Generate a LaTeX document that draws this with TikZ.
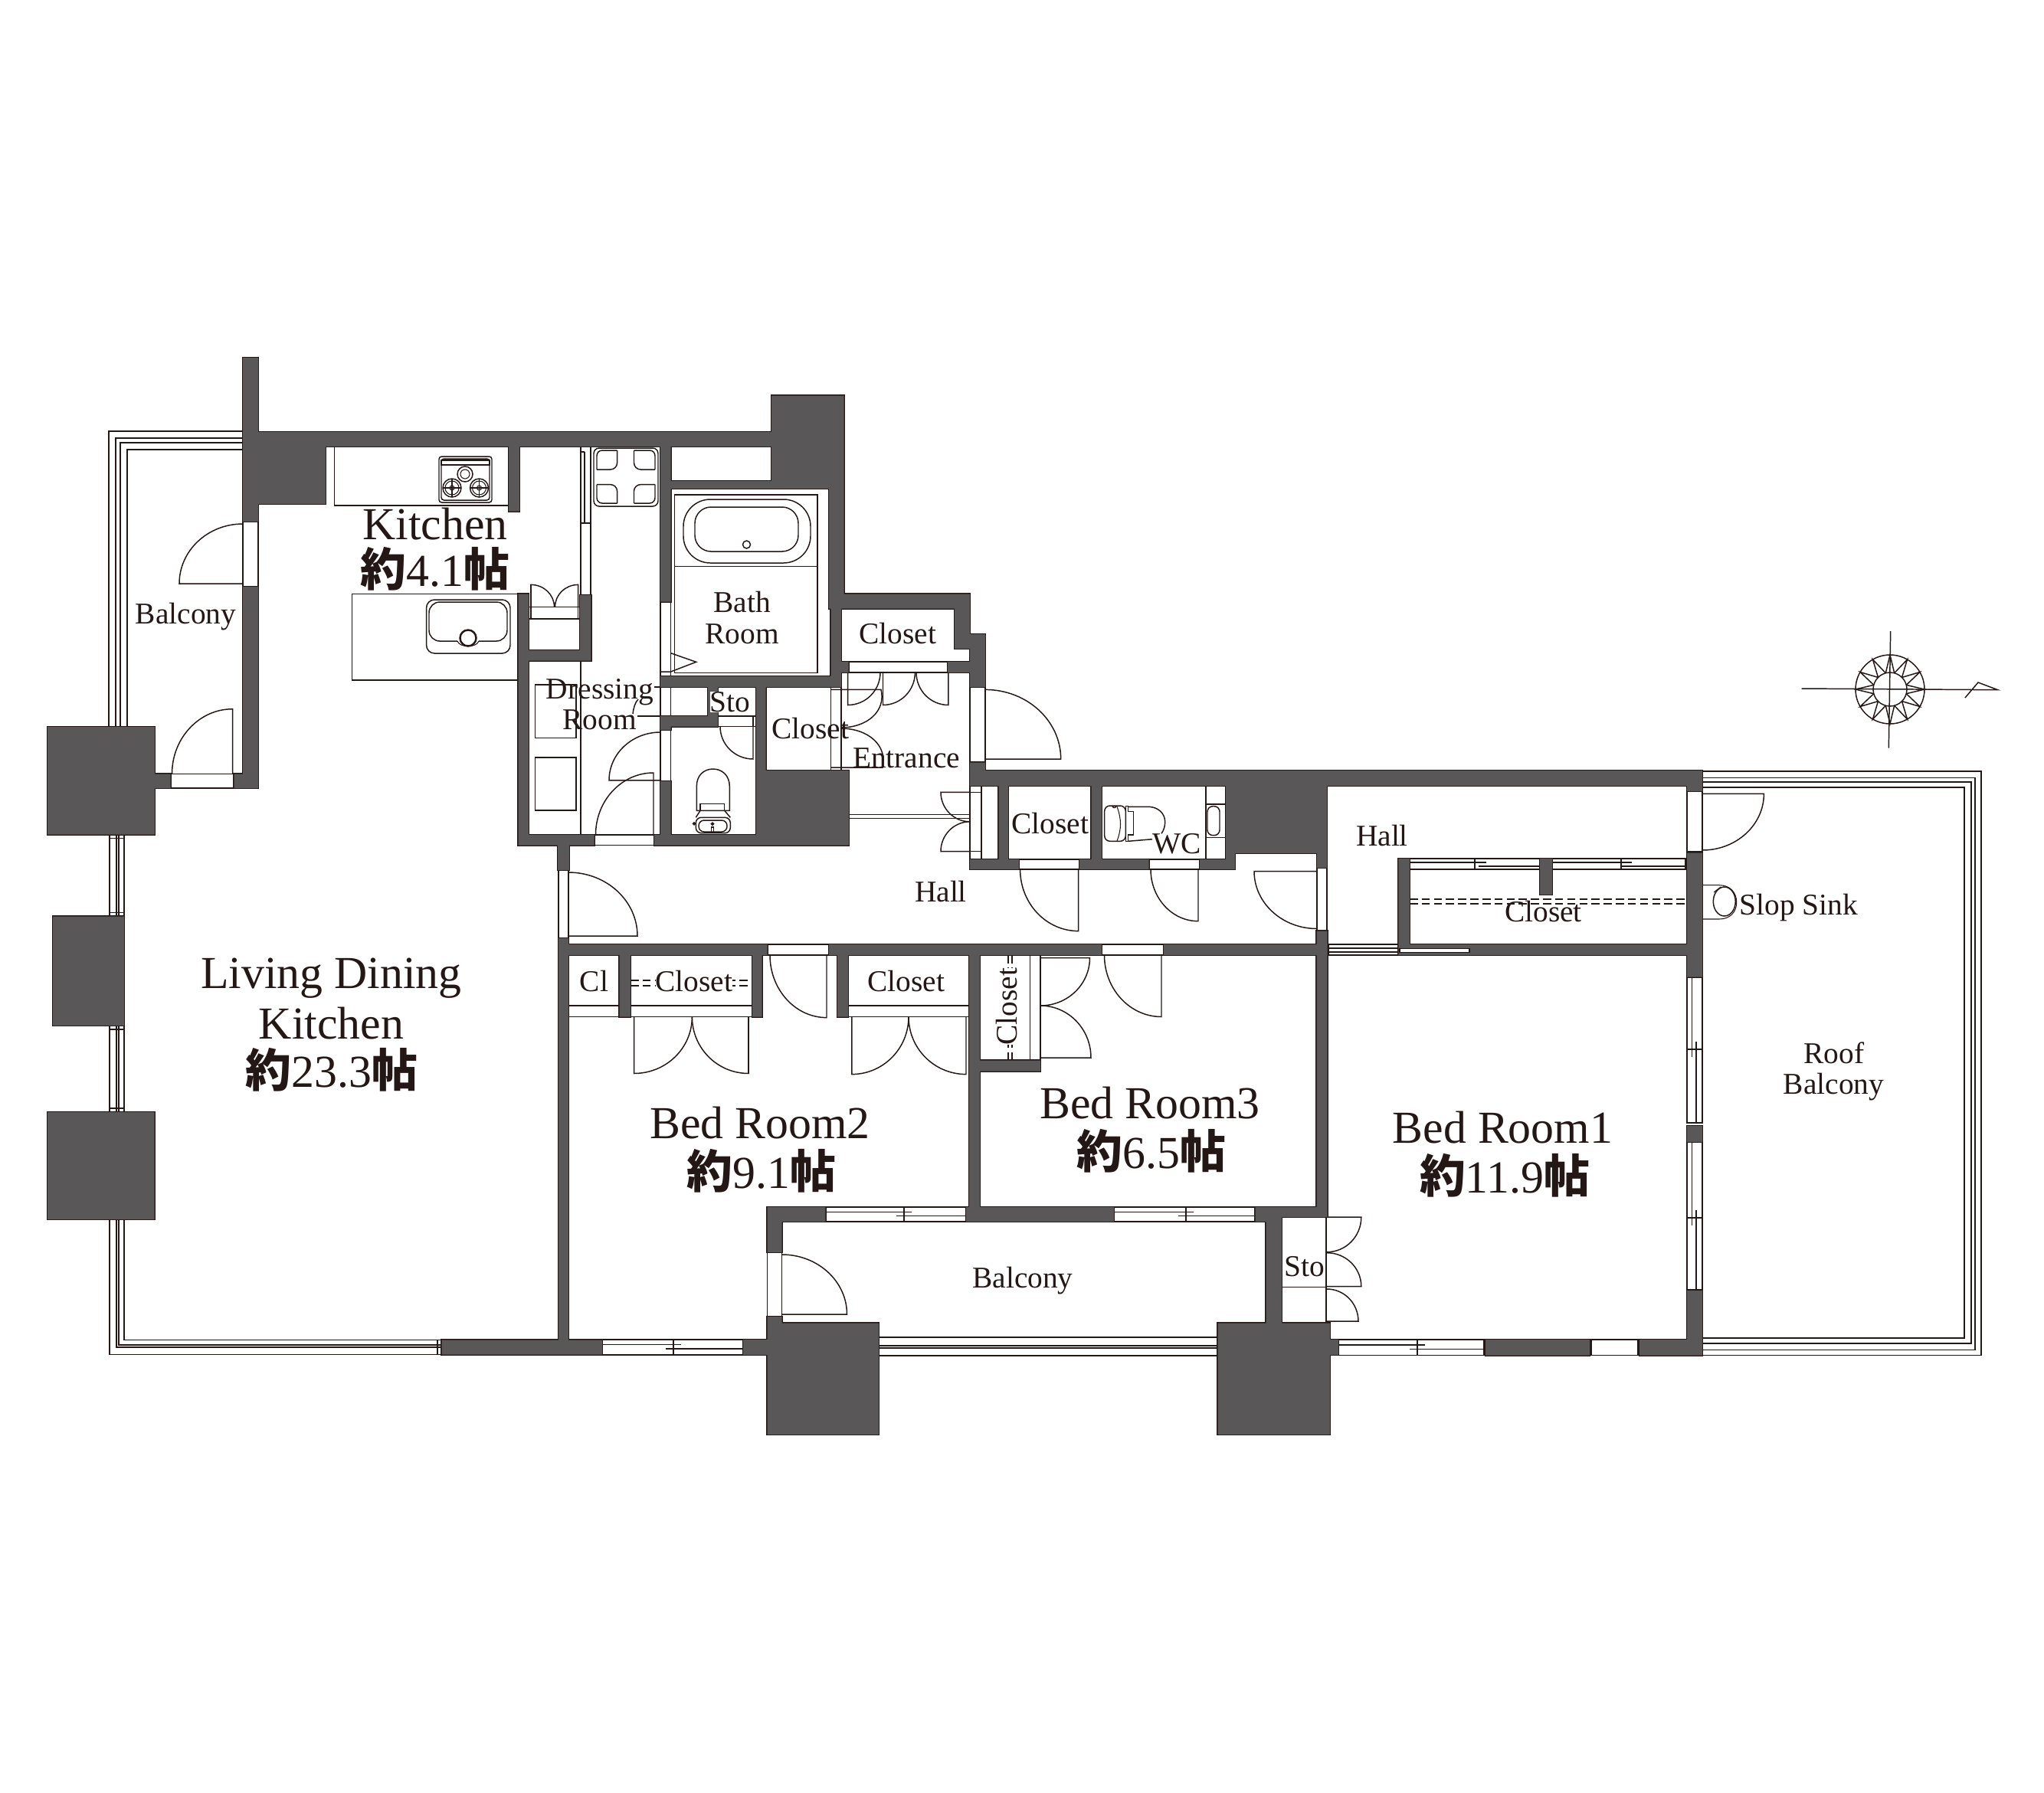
\documentclass[tikz,border=0pt]{standalone}
\usepackage{fontspec}
\setmainfont{Liberation Serif}
\newfontfamily\cjk{Noto Sans CJK JP}
\definecolor{ink}{HTML}{231815}
\definecolor{wallfill}{HTML}{595757}
\tikzset{
  thl/.style={draw=ink,line width=0.42pt},
  hair/.style={draw=ink,line width=0.3pt},
  lab/.style={anchor=base,inner sep=0pt,text=ink,font=\fontsize{11.2}{13}\selectfont},
  big/.style={anchor=base,inner sep=0pt,text=ink,font=\fontsize{17}{20}\selectfont},
}
% door: hinge, leaf tip, arc end
\newcommand\dr[6]{%
  \pgfmathsetmacro\myax{#3+0.5523*(#5-#1)}\pgfmathsetmacro\myay{#4+0.5523*(#6-#2)}%
  \pgfmathsetmacro\mybx{#5+0.5523*(#3-#1)}\pgfmathsetmacro\myby{#6+0.5523*(#4-#2)}%
  \draw[thl] (#1,#2)--(#3,#4) .. controls (\myax,\myay) and (\mybx,\myby) .. (#5,#6);}
% sill
\newcommand\sill[4]{\draw[thl] (#1,#2) rectangle (#3,#4);}
% horizontal window: x1 y1 x2 y2 xm
\newcommand\hwin[5]{%
  \pgfmathsetmacro\mya{#2+0.34*(#4-#2)}\pgfmathsetmacro\myb{#2+0.6*(#4-#2)}%
  \draw[thl] (#1,#2) rectangle (#3,#4);
  \draw[hair] (#1,\mya)--(#5+10,\mya) (#5-10,\myb)--(#3,\myb) (#5,#2)--(#5,#4);}
% vertical window: x1 y1 x2 y2 ym
\newcommand\vwin[5]{%
  \pgfmathsetmacro\mya{#1+0.34*(#3-#1)}\pgfmathsetmacro\myb{#1+0.6*(#3-#1)}%
  \draw[thl] (#1,#2) rectangle (#3,#4);
  \draw[hair] (\mya,#2)--(\mya,#5+10) (\myb,#5-10)--(\myb,#4) (#1,#5)--(#3,#5);}
\def\walls{
 (317,467) rectangle (337,681)
 (317,564) rectangle (425,658)
 (337,564) rectangle (1007,583)
 (317,766) rectangle (337,1029)
 (305.6,1010.5) rectangle (337,1029)
 (202,1010.5) rectangle (222.5,1029)
 (62,949) rectangle (202,1089.5)
 (69,1196.5) rectangle (162,1339)
 (62,1452) rectangle (201.5,1592)
 (664,583) rectangle (678,667.7)
 (862,583) rectangle (875.5,785.7)
 (875.5,628) rectangle (1101.5,638)
 (1007,516.5) rectangle (1101.5,638)
 (1082,638) rectangle (1101.5,794.6)
 (1082,775.5) rectangle (1266,794.6)
 (1084.7,794.6) rectangle (1098,883)
 (1246,775.5) rectangle (1266,847)
 (1266,828) rectangle (1286,897)
 (1098,864) rectangle (1107.7,878)
 (1237,864) rectangle (1266,878)
 (862,883) rectangle (1098,897)
 (1084.7,878) rectangle (1098,897)
 (676.5,775.5) rectangle (690,1103.6)
 (676.5,849) rectangle (771.4,862.5)
 (757,777) rectangle (771.4,862.5)
 (676.5,1090) rectangle (775.5,1103.6)
 (728,1103.6) rectangle (743,1136)
 (924,897) rectangle (937,948.6)
 (862,935) rectangle (937,948.6)
 (862,935) rectangle (875.5,953)
 (987,897) rectangle (999.5,1103.6)
 (862,1020) rectangle (875.5,1103.6)
 (854,1090) rectangle (1108,1103.6)
 (987,1006) rectangle (1108,1103.6)
 (1266,995.5) rectangle (1286,1025.5)
 (1266,1006) rectangle (2222,1026)
 (1303.6,1026) rectangle (1316,1122)
 (1266,1122) rectangle (1330,1135)
 (1409,1122) rectangle (1499.5,1135)
 (1566,1122) rectangle (1612,1135)
 (1424.5,1026) rectangle (1438,1122)
 (1600,1026) rectangle (1732,1114)
 (1600,1026) rectangle (1612,1135)
 (1719,1026) rectangle (1732,1133)
 (729,1225) rectangle (742,1749.5)
 (729,1233) rectangle (1001.6,1247)
 (1082,1233) rectangle (1438,1247)
 (1519,1233) rectangle (1718.6,1247)
 (1718.6,1215.6) rectangle (1732.6,1589)
 (576.5,1749.5) rectangle (786,1768.6)
 (808.7,1247) rectangle (822.8,1327.5)
 (982,1247) rectangle (994.6,1327.5)
 (1093,1247) rectangle (1107,1327.5)
 (1265,1247) rectangle (1279,1578.6)
 (1279,1384.7) rectangle (1358,1398.5)
 (1001.6,1576) rectangle (1077.4,1595)
 (1261,1576) rectangle (1454,1595)
 (1638.6,1576) rectangle (1732.6,1589)
 (1638.6,1576) rectangle (1652.6,1595)
 (1652.6,1589) rectangle (1673,1727.6)
 (1638.6,1589) rectangle (1673,1595)
 (1001.6,1576) rectangle (1020.6,1635)
 (1001.6,1719) rectangle (1020.6,1730)
 (1001.6,1727.6) rectangle (1147,1873)
 (970,1749) rectangle (1001.6,1769)
 (1589.5,1727.6) rectangle (1736,1873)
 (1736,1749) rectangle (1747,1769)
 (1939,1749) rectangle (2075,1769.5)
 (2140,1749) rectangle (2222,1769.5)
 (2202,1685) rectangle (2222,1769.5)
 (2202,1470) rectangle (2222,1491)
 (2202,1113.6) rectangle (2222,1275.6)
 (2202,1007) rectangle (2222,1033)
 (1825.4,1121) rectangle (1840,1247)
 (1825.4,1233) rectangle (2202,1247)
 (2010,1121) rectangle (2026,1168)
}
\begin{document}
\begin{tikzpicture}[x=0.01cm,y=-0.01cm]
\useasboundingbox (0,0) rectangle (2668,2341);
\fill[white] (0,0) rectangle (2668,2341);

% west balcony rails
\draw[thl] (317,563)--(142,563)--(142,949) (317,572)--(151,572)--(151,949)
           (317,578)--(157,578)--(157,949) (317,587)--(166,587)--(166,949);
\foreach \ya/\yb in {1089.5/1196.5,1339/1452}{
  \draw[thl] (143,\ya)--(143,\yb) (162,\ya)--(162,\yb);
  \draw[hair] (152,\ya)--(152,\yb) (155,\ya)--(155,\yb);
  \draw[hair] (143,\ya+5)--(162,\ya+5) (143,\yb-5)--(162,\yb-5);}
\draw[thl] (143,1592)--(143,1768.6)--(576,1768.6) (162,1592)--(162,1749.5)--(576,1749.5);
\draw[hair] (152,1592)--(152,1759)--(576,1759) (155,1592)--(155,1756)--(576,1756);
\draw[thl] (571,1749.5)--(571,1768.6);
% centre balcony rails
\draw[thl] (1147,1746)--(1590,1746) (1147,1770)--(1590,1770);
\draw[hair] (1147,1757)--(1590,1757) (1147,1760)--(1590,1760);
% roof balcony rails
\draw[thl] (2222,1007)--(2586,1007)--(2586,1769.5)--(2222,1769.5)
           (2222,1028)--(2564,1028)--(2564,1747)--(2222,1747);
\draw[hair] (2222,1015.4)--(2578,1015.4)--(2578,1762.5)--(2222,1762.5)
           (2222,1021)--(2573,1021)--(2573,1754)--(2222,1754);

% kitchen counter and stove
\draw[thl] (425,584)--(425,658) (436.7,584)--(436.7,660)--(664,660);
\draw[thl,rounded corners=1pt] (573,596) rectangle (642,656);
\draw[thl,rounded corners=1pt] (576,599) rectangle (639,653);
\draw[thl] (576,601) rectangle (639,607);
\draw[thl] (607,619) circle (10);
\draw[hair] (607,619) circle (6);
\foreach \cx in {590,625.5}{
  \draw[thl] (\cx,637) circle (12);
  \draw[hair] (\cx,637) circle (9) (\cx,637) circle (3);
  \draw[hair] (\cx-12,637)--(\cx+12,637) (\cx,625)--(\cx,649);}
% island and sink
\draw[thl] (676.5,775.7)--(459.7,775.7)--(459.7,887.8)--(676.5,887.8);
\draw[thl,rounded corners=3pt] (556.6,783) rectangle (666,853);
\draw[thl,rounded corners=4pt] (560,786) rectangle (662,837);
\fill[white] (597,830) rectangle (625,845);
\draw[hair] (597,837) .. controls (600,846) and (622,846) .. (625,837);
\draw[draw=ink,line width=0.7pt] (611,833) circle (10.5);
% kitchen passage
\draw[thl] (758,584)--(758,777) (771,584)--(771,777) (763,590)--(763,683) (758,683)--(771,683) (758,590)--(763,590);
\draw[thl,rounded corners=2pt] (775,585) rectangle (859,661);
\draw[thl,rounded corners=2pt] (779,588) rectangle (855,657);
\fill[white] (805.6,587) rectangle (827.5,658) (778,613) rectangle (856,632.6);
\draw[thl,rounded corners=2.5pt] (779,613)--(805.6,613)--(805.6,588) (827.5,588)--(827.5,613)--(855,613)
  (855,632.6)--(827.5,632.6)--(827.5,657) (805.6,657)--(805.6,632.6)--(779,632.6);
% kitchen box
\draw[thl] (690,792.4)--(757,792.4) (690,808)--(757,808) (693,763.4)--(693,808) (754.6,763.4)--(754.6,808);
\dr{693}{792.4}{693}{763.4}{723.5}{792.4}
\dr{754.6}{792.4}{754.6}{763.4}{724.5}{792.4}
% dressing room
\draw[thl] (758,862.5)--(758,1090);
\draw[thl] (752,894) rectangle (698.5,963.4);
\draw[thl] (698.5,989) rectangle (752,1058);
\draw[thl] (862,785.7)--(862,883) (875.5,785.7)--(875.5,883);
\draw[thl] (862,897)--(862,935) (875.5,897)--(875.5,935);
\draw[thl] (862,953)--(862,1020) (875.5,953)--(875.5,1020);
\draw[thl] (854,897)--(862,897) (832,935)--(862,935);
\draw[thl] (833,913) .. controls (829,917) and (827,924) .. (826,932);
\dr{862}{1018.8}{795}{1018.8}{862}{956}
\dr{853}{1090}{853}{1009}{777.5}{1090}
\sill{775.5}{1090}{854}{1103.6}
% bath
\draw[thl] (880.6,646) rectangle (1067,878.6);
\draw[thl] (880.6,739.7)--(1067,739.7);
\draw[thl,rounded corners=10pt] (892,652) rectangle (1058,735);
\draw[thl,rounded corners=6pt] (907,662) rectangle (1042,720);
\draw[thl] (974.5,711) circle (5);
\draw[thl] (875.5,852.7)--(908.7,864.3)--(875.5,877) (862,877)--(875.5,877);
% sto
\draw[thl] (937,935)--(986,935) (937,948.6)--(986,948.6) (983,935)--(983,948.6);
\dr{983}{948.6}{983}{991}{940}{948.6}
% toilet room
\draw[thl] (909.3,1058.3)--(909.3,1026.7) .. controls (909.3,1012) and (919,1004) .. (930.7,1004)
  .. controls (942,1004) and (952.3,1012) .. (952.3,1026.7)--(952.3,1058.3)--cycle;
\draw[thl] (914,1058.3)--(914,1049.3)--(945.7,1049.3)--(945.7,1058.3);
\draw[thl] (914,1058.3)--(908.3,1067.3) (945.7,1058.3)--(953.3,1067.3);
\draw[thl,rounded corners=2pt] (908.3,1067.3) rectangle (953.3,1087.7);
\draw[thl,rounded corners=2pt] (912,1071) rectangle (949,1086);
\draw[thl] (928.3,1087)--(928.3,1080) (931.7,1080)--(931.7,1087) (928.3,1080)--(931.7,1080);
\draw[thl] (930,1075.7) circle (1.5) (906,1075.3) circle (1.4);
% closet, entrance
\draw[thl] (1084.7,898)--(1084.7,1006) (1098,898)--(1098,1006);
\dr{1085}{900.4}{1150}{900.4}{1097}{950}
\dr{1085}{1002}{1152}{1002}{1097}{951}
\draw[thl] (1107.7,864)--(1237,864) (1107.7,878)--(1237,878);
\dr{1106.6}{878}{1106.6}{920.5}{1149}{878}
\dr{1152.5}{878}{1152.5}{920.5}{1194.4}{878}
\dr{1237.8}{878}{1237.8}{920.5}{1196}{878}
\sill{1266}{897}{1286}{995.5}
\dr{1286}{991}{1384.7}{991}{1286}{900.4}
\draw[thl] (1108,1063.4)--(1266,1063.4) (1108,1068.3)--(1266,1068.3);
\draw[thl] (1266,1025.5)--(1266,1122) (1281,1025.5)--(1281,1122) (1266,1034.4)--(1281,1034.4) (1266,1111.6)--(1281,1111.6);
\dr{1266}{1034.4}{1228}{1034.4}{1266}{1072.8}
\dr{1266}{1111.6}{1228}{1111.6}{1266}{1072.8}
% hall doors
\sill{1330}{1122}{1409}{1135}
\dr{1407.6}{1135}{1407.6}{1215.6}{1331.6}{1135}
\sill{1499.5}{1122}{1566}{1135}
\dr{1564}{1135}{1564}{1202.7}{1502}{1135}
\draw[thl] (1719,1133)--(1719,1215.6) (1732,1133)--(1732,1215.6) (1719,1133)--(1732,1133);
\dr{1719}{1137.5}{1637}{1137.5}{1719}{1212.5}
\draw[thl] (729,1136)--(729,1225) (742,1136)--(742,1225);
\dr{742}{1222}{832}{1222}{742}{1139}
% WC
\draw[thl] (1574,1026)--(1574,1122) (1574,1050)--(1600,1050) (1574,1093.7)--(1600,1093.7);
\draw[thl,rounded corners=2pt] (1576,1052.7) rectangle (1592,1090.6);
\draw[thl,rounded corners=2pt] (1441.7,1052) rectangle (1469.3,1098.3);
\draw[thl] (1452,1052) arc (180:0:2.5);
\draw[hair] (1458,1053) .. controls (1464,1070) and (1464,1082) .. (1458,1098);
\draw[thl] (1469.3,1052.7)--(1472.7,1052.7)--(1472.7,1059.3)--(1479.3,1059.3)--(1479.3,1090)--(1472.7,1090)--(1472.7,1098.3)--(1469.3,1098.3)--cycle;
\draw[thl] (1472.7,1053.3)--(1500,1053.3) .. controls (1512,1054) and (1520.7,1062) .. (1520.7,1073.3)
   .. controls (1520.7,1079) and (1519,1084) .. (1516,1088.3) (1472.7,1098.3)--(1504,1095.7);
% balcony doors
\sill{317}{681}{337}{766}
\dr{317}{762}{234}{762}{317}{684}
\sill{222.5}{1010.5}{305.6}{1029}
\dr{303.6}{1010.5}{303.6}{925.7}{224.5}{1010.5}
% BR2 / closets
\sill{1001.6}{1233}{1082}{1247}
\dr{1079}{1247}{1079}{1328.6}{1005}{1247}
\draw[thl] (742,1313)--(809,1313) (742,1327.5)--(809,1327.5);
\draw[thl] (823,1313)--(982,1313) (823,1327.5)--(982,1327.5);
\draw[thl] (1107,1313)--(1265,1313) (1107,1327.5)--(1265,1327.5);
\draw[thl] (827.7,1327.5)--(827.7,1401.5) (977,1327.5)--(977,1401.5);
\dr{827.7}{1327.5}{827.7}{1401.5}{903.4}{1327.5}
\dr{977}{1327.5}{977}{1401.5}{903.4}{1327.5}
\dr{1111.8}{1327.5}{1111.8}{1402.6}{1186}{1327.5}
\dr{1261}{1327.5}{1261}{1402.6}{1186}{1327.5}
\draw[hair,dash pattern=on 3pt off 1.5pt] (823,1280)--(982,1280) (823,1287)--(982,1287);
% BR3
\sill{1438}{1233}{1519}{1247}
\dr{1516}{1247}{1516}{1327.5}{1441.5}{1247}
\draw[thl] (1344.4,1247)--(1344.4,1384.7) (1358,1247)--(1358,1384.7) (1344.4,1384.7)--(1358,1384.7);
\draw[hair,dash pattern=on 3pt off 1.5pt] (1316,1247)--(1316,1384.7) (1321,1247)--(1321,1384.7);
\dr{1358}{1250.5}{1422.5}{1250.5}{1358}{1313}
\dr{1358}{1381}{1424}{1381}{1358}{1313}
% windows
\hwin{786.3}{1749}{970}{1769}{879}
\hwin{1077.4}{1576}{1261}{1595}{1180}
\hwin{1454}{1576}{1638.6}{1595}{1548}
\hwin{1747}{1749}{1937}{1769.5}{1850}
\sill{2077}{1749}{2138}{1769.5}
\vwin{2202}{1275.6}{2222}{1466}{1370}
\vwin{2202}{1491}{2222}{1684}{1590}
% south balcony door
\sill{1001.6}{1635}{1020.6}{1719}
\dr{1020.6}{1716}{1105.5}{1716}{1020.6}{1638}
% sto in BR1
\draw[thl] (1731,1589)--(1731,1727.6) (1673,1680.6)--(1731,1680.6);
\dr{1732}{1589}{1776.8}{1589}{1732}{1634.7}
\dr{1732}{1679.6}{1776.8}{1679.6}{1732}{1635.7}
\dr{1732}{1725}{1773}{1725}{1732}{1683}
% hall right
\sill{1734}{1233}{1825}{1247}
\draw[hair] (1734,1238)--(1825,1238) (1734,1243)--(1825,1243);
\sill{1840}{1121}{2010}{1135}
\sill{2026}{1121}{2200}{1135}
\draw[hair] (1840,1126)--(1940,1126) (1930,1131)--(2010,1131) (2026,1126)--(2130,1126) (2115,1131)--(2200,1131);
\draw[hair] (1925,1121)--(1925,1135) (2116,1121)--(2116,1135);
\draw[hair,dash pattern=on 3pt off 1.5pt] (1840,1174)--(2202,1174) (1840,1180)--(2202,1180);
\sill{2202}{1033}{2222}{1112}
\dr{2222}{1036.4}{2302.4}{1036.4}{2222}{1110}
% slop sink
\draw[hair] (2222,1155.7)--(2244,1155.7) .. controls (2258,1155.7) and (2266.7,1165) .. (2266.7,1178)
   .. controls (2266.7,1191) and (2258,1200) .. (2244,1200)--(2222,1200);
\draw[thl] (2250.8,1177) ellipse (14.5 and 19);
\draw[hair] (2237,1165)--(2246,1158);

% walls
\draw[draw=ink,line width=0.7pt] \walls;
\fill[wallfill] \walls;
\fill[white] (1827,1238.4) rectangle (1918,1243.4);
\draw[hair] (1827,1238.4) rectangle (1918,1243.4);

% compass
\begin{scope}[shift={(2467,900)}]
  \draw[thl] (0,0) circle (45) (0,0) circle (22);
  \foreach \a in {0,30,...,330}{
    \draw[thl] (\a-15:22)--(\a:45)--(\a+15:22);}
\end{scope}
\draw[thl] (2351.5,899)--(2607.7,900.7)--(2582,891)--(2565,911);
\draw[thl] (2467.7,824)--(2465.3,976.7);

% labels
\node[big] (ldk1) at (432.5,1290) {Living Dining};
\node[big] (ldk2) at (432.5,1356) {Kitchen};
\node[big] (ldk3) at (433,1419) {{\cjk\bfseries 約}23.3{\cjk\bfseries 帖}};
\node[big] (kit1) at (568,704) {Kitchen};
\node[big] (kit2) at (568,765) {{\cjk\bfseries 約}4.1{\cjk\bfseries 帖}};
\node[big] (br2a) at (992,1486) {Bed Room2};
\node[big] (br2b) at (994,1551) {{\cjk\bfseries 約}9.1{\cjk\bfseries 帖}};
\node[big] (br3a) at (1501,1460) {Bed Room3};
\node[big] (br3b) at (1503,1525) {{\cjk\bfseries 約}6.5{\cjk\bfseries 帖}};
\node[big] (br1a) at (1961.5,1492) {Bed Room1};
\node[big] (br1b) at (1964,1557.6) {{\cjk\bfseries 約}11.9{\cjk\bfseries 帖}};
\node[lab] (balw) at (242.5,814) {Balcony};
\node[lab] (hall1) at (1228,1177) {Hall};
\node[lab] (dr1) at (783,912) {Dressing};
\node[lab] (dr2) at (782.7,952) {Room};
\node[lab,fill=white] (sto1) at (953,929.5) {Sto};
\node[lab] (ba1) at (968.5,799) {Bath};
\node[lab] (ba2) at (968.6,840) {Room};
\node[lab] (cl1) at (1172,840) {Closet};
\node[lab] (cl2) at (1058,964) {Closet};
\node[lab] (ent) at (1183,1002) {Entrance};
\node[lab] (cl3) at (1371,1088) {Closet};
\node[lab] (wc) at (1536,1114) {WC};
\node[lab] (hall2) at (1804,1104) {Hall};
\node[lab] (cl4) at (2014.5,1203) {Closet};
\node[lab] (slop) at (2348,1194) {Slop Sink};
\node[lab] (roof1) at (2394,1388) {Roof};
\node[lab] (roof2) at (2393.5,1428) {Balcony};
\node[lab] (cl5) at (775.4,1294) {Cl};
\node[lab,fill=white] (cl6) at (906,1294) {Closet};
\node[lab] (cl7) at (1183,1294) {Closet};
\node[lab,rotate=90,fill=white] (cl8) at (1327,1314) {Closet};
\node[lab] (bals) at (1335,1681) {Balcony};
\node[lab] (sto2) at (1702.5,1666) {Sto};
\end{tikzpicture}
\end{document}
